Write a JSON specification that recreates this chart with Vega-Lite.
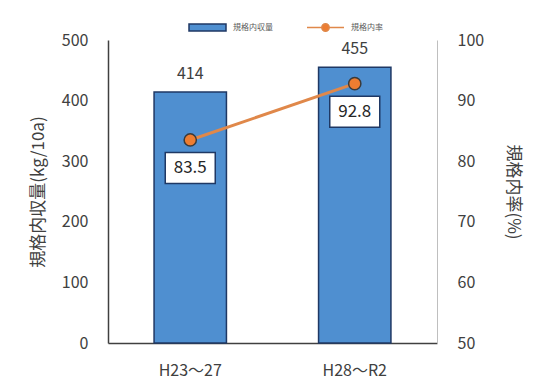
{
  "$schema": "https://vega.github.io/schema/vega-lite/v6.json",
  "width": 329,
  "height": 303,
  "autosize": {"type": "none"},
  "padding": {"left": 108, "top": 40, "right": 99, "bottom": 42},
  "background": "white",
  "config": {
    "font": "Noto Sans CJK JP",
    "view": {"stroke": null},
    "axis": {"labelFont": "Noto Sans CJK JP", "titleFont": "Noto Sans CJK JP", "labelColor": "#404040", "titleColor": "#404040", "grid": false, "ticks": false}
  },
  "data": {
    "values": [
      {"period": "H23～27", "yield": 414, "rate": 83.5},
      {"period": "H28～R2", "yield": 455, "rate": 92.8}
    ]
  },
  "encoding": {
    "x": {
      "field": "period", "type": "nominal", "sort": null,
      "scale": {"paddingInner": 0.56, "paddingOuter": 0.28},
      "axis": {"title": null, "labelAngle": 0, "labelFontSize": 16, "labelPadding": 19, "domainColor": "#404040", "domainWidth": 1.5}
    }
  },
  "layer": [
    {
      "encoding": {
        "y": {
          "field": "yield", "type": "quantitative",
          "scale": {"domain": [0, 500], "nice": false},
          "axis": {"title": "規格内収量(kg/10a)", "titleFontSize": 17, "titleFontWeight": "normal", "labelFontSize": 16, "labelPadding": 20, "titlePadding": 14, "tickCount": 5, "domainColor": "#404040", "domainWidth": 1.5}
        }
      },
      "layer": [
        {
          "mark": {"type": "bar", "stroke": "#1f3864", "strokeWidth": 1.5},
          "encoding": {
            "color": {"datum": "規格内収量", "type": "nominal",
              "scale": {"domain": ["規格内収量"], "range": ["#4f8fd0"]},
              "legend": {"orient": "none", "legendX": 80, "legendY": -32, "title": null, "labelFontSize": 8, "labelColor": "#595959",
                "symbolType": "M-1,-0.19L1,-0.19L1,0.19L-1,0.19Z", "symbolSize": 1369, "symbolStrokeColor": "#1f3864", "symbolStrokeWidth": 1.5, "labelOffset": 6}
            }
          }
        },
        {
          "mark": {"type": "text", "dy": -18, "fontSize": 16, "color": "#404040"},
          "encoding": {"text": {"field": "yield"}}
        }
      ]
    },
    {
      "encoding": {
        "y": {
          "field": "rate", "type": "quantitative",
          "scale": {"domain": [50, 100], "nice": false},
          "axis": {"orient": "right", "title": "規格内率(%)", "titleAngle": 90, "titleFontSize": 17, "titleFontWeight": "normal", "labelFontSize": 16, "labelPadding": 20, "titlePadding": 20, "tickCount": 5, "domainColor": "#bfbfbf", "domainWidth": 1}
        }
      },
      "layer": [
        {
          "mark": {"type": "line", "strokeWidth": 3},
          "encoding": {"stroke": {"datum": "規格内率", "type": "nominal",
            "scale": {"domain": ["規格内率"], "range": ["#e0884a"]},
            "legend": {"orient": "none", "legendX": 198, "legendY": -32, "title": null, "labelFontSize": 8, "labelColor": "#595959",
              "symbolType": "M-1,0L-0.2,0M0.2,0L1,0M0.2,0A0.2,0.2 0 1,1 -0.2,0A0.2,0.2 0 1,1 0.2,0Z", "symbolSize": 1369, "symbolFillColor": "#ed7d31", "symbolStrokeWidth": 1.5, "labelOffset": 6}
          }}
        },
        {
          "mark": {"type": "point", "filled": true, "fill": "#ed7d31", "stroke": "#3a3a3a", "strokeWidth": 1.5, "size": 150, "opacity": 1}
        },
        {
          "mark": {"type": "point", "shape": "M-1,-0.62L1,-0.62L1,0.62L-1,0.62Z", "size": 2500, "filled": true, "fill": "white", "stroke": "#1f3864", "strokeWidth": 1.5, "yOffset": 28, "opacity": 1}
        },
        {
          "mark": {"type": "text", "fontSize": 17, "color": "#262626", "yOffset": 28},
          "encoding": {"text": {"field": "rate", "format": ".1f"}}
        }
      ]
    }
  ],
  "resolve": {"scale": {"y": "independent", "color": "independent", "stroke": "independent"}}
}
